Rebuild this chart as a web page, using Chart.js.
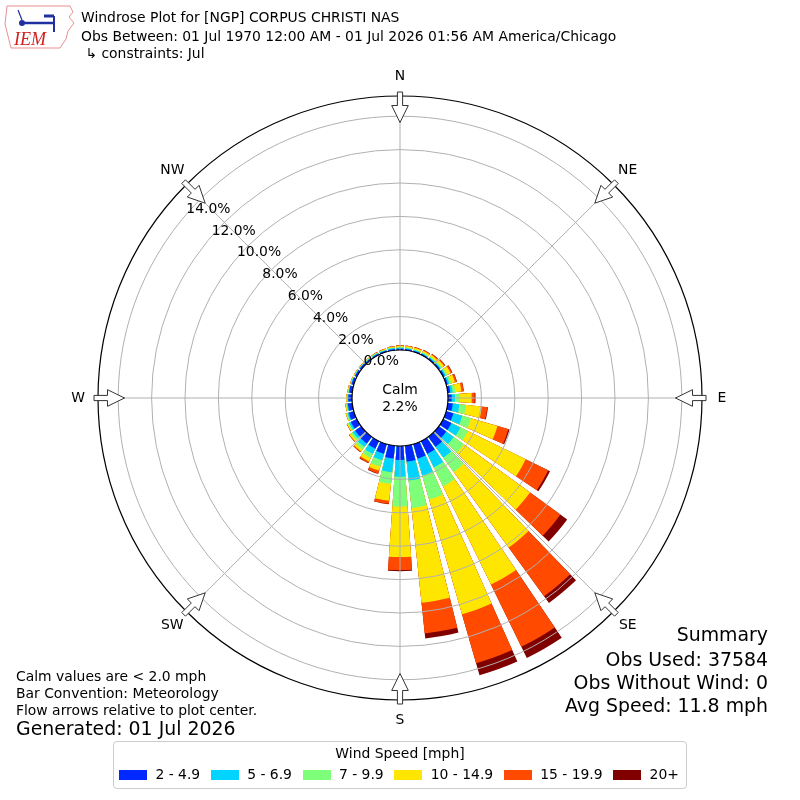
<!DOCTYPE html>
<html>
<head>
<meta charset="utf-8">
<script src="https://cdn.jsdelivr.net/npm/chart.js@4.4.1/dist/chart.umd.min.js"></script>
<style>
  body { margin: 0; background: #fff; font-family: "DejaVu Sans", sans-serif; color: #000; }
  #wrap { position: relative; width: 800px; height: 800px; overflow: hidden; }
  #rose { position: absolute; left: 0; top: 0; }
  .txt { position: absolute; white-space: pre; line-height: 1; font-size: 13.9px; }
  .big { font-size: 18.9px; }
  .right { text-align: right; right: 32px; }
  #legend { position: absolute; left: 113px; top: 741px; width: 574px; height: 48px;
            box-sizing: border-box; border: 1px solid #cccccc; border-radius: 4px; background: #fff; }
  #legend .title { position: absolute; left: 0; right: 0; top: 5px; text-align: center; font-size: 13.9px; line-height: 1; }
  #items { position: absolute; left: 5px; top: 26px; display: flex; align-items: center; gap: 10.6px; }
  .item { display: flex; align-items: center; gap: 8.4px; font-size: 13.9px; line-height: 1; }
  .sw { width: 28px; height: 10px; }
</style>
</head>
<body>
<div id="wrap">
  <canvas id="rose" width="800" height="800"></canvas>

  <svg style="position:absolute;left:2px;top:2px" width="76" height="50" viewBox="0 0 76 50">
    <path d="M5,4 L68,4 L71,10 L67,15 L72,21 L66,29 L64,37 L58,46 L9,46 L7,38 L3,22 Z" fill="none" stroke="#e89090" stroke-width="1"/>
    <line x1="20" y1="21" x2="52" y2="21" stroke="#2030a0" stroke-width="2.5"/>
    <circle cx="20" cy="21" r="3" fill="#2030a0"/>
    <line x1="52" y1="14" x2="52" y2="30" stroke="#2030a0" stroke-width="2"/>
    <line x1="42" y1="14" x2="52" y2="14" stroke="#2030a0" stroke-width="3"/>
    <line x1="16" y1="8" x2="20" y2="18" stroke="#2030a0" stroke-width="1.2"/>
    <text x="12" y="43" font-family="Liberation Serif" font-style="italic" font-size="18" fill="#d02020">IEM</text>
  </svg>

  <div class="txt" style="left:81px;top:11px">Windrose Plot for [NGP] CORPUS CHRISTI NAS</div>
  <div class="txt" style="left:81px;top:30px">Obs Between: 01 Jul 1970 12:00 AM - 01 Jul 2026 01:56 AM America/Chicago</div>
  <div class="txt" style="left:81px;top:47px"> ↳ constraints: Jul</div>

  <div class="txt" style="left:16px;top:670px">Calm values are &lt; 2.0 mph</div>
  <div class="txt" style="left:16px;top:687px">Bar Convention: Meteorology</div>
  <div class="txt" style="left:16px;top:704px">Flow arrows relative to plot center.</div>
  <div class="txt big" style="left:16px;top:719px">Generated: 01 Jul 2026</div>

  <div class="txt big right" style="top:625px">Summary</div>
  <div class="txt big right" style="top:650px">Obs Used: 37584</div>
  <div class="txt big right" style="top:673px">Obs Without Wind: 0</div>
  <div class="txt big right" style="top:696px">Avg Speed: 11.8 mph</div>

  <div id="legend">
    <div class="title">Wind Speed [mph]</div>
    <div id="items"></div>
  </div>
</div>

<script>
// wind directions (degrees, meteorological: where the wind blows from)
const DIRECTIONS = [0, 10, 20, 30, 40, 50, 60, 70, 80, 90, 100, 110, 120, 130, 140, 150, 160, 170,
                    180, 190, 200, 210, 220, 230, 240, 250, 260, 270, 280, 290, 300, 310, 320, 330, 340, 350];

// frequency (% of obs) for each speed class, per direction
const speed2to5 = [0.08, 0.07, 0.07, 0.07, 0.08, 0.08, 0.10, 0.10, 0.15, 0.22, 0.30, 0.45, 0.55, 0.55, 0.75, 0.85, 0.90, 0.95,
                   0.84, 0.77, 0.60, 0.50, 0.50, 0.45, 0.40, 0.32, 0.26, 0.22, 0.18, 0.14, 0.12, 0.10, 0.08, 0.08, 0.08, 0.08];
const speed5to7 = [0.05, 0.05, 0.05, 0.05, 0.06, 0.07, 0.08, 0.10, 0.15, 0.20, 0.40, 0.55, 0.60, 0.55, 0.80, 0.90, 1.05, 1.15,
                   1.00, 0.83, 0.40, 0.35, 0.25, 0.17, 0.12, 0.08, 0.06, 0.05, 0.04, 0.04, 0.03, 0.03, 0.04, 0.04, 0.04, 0.05];
const speed7to10 = [0.05, 0.05, 0.05, 0.06, 0.06, 0.08, 0.10, 0.12, 0.15, 0.30, 0.40, 0.55, 0.50, 0.75, 1.05, 1.25, 1.50, 1.65,
                    1.79, 0.70, 0.40, 0.27, 0.18, 0.13, 0.08, 0.06, 0.05, 0.04, 0.03, 0.02, 0.02, 0.02, 0.02, 0.03, 0.03, 0.04];
const speed10to15 = [0.08, 0.08, 0.09, 0.10, 0.12, 0.15, 0.22, 0.23, 0.37, 0.70, 0.95, 1.65, 3.85, 4.90, 5.60, 6.55, 7.15, 5.70,
                     3.02, 1.02, 0.25, 0.23, 0.15, 0.11, 0.06, 0.04, 0.04, 0.04, 0.03, 0.03, 0.03, 0.03, 0.03, 0.03, 0.04, 0.05];
const speed15to20 = [0.03, 0.03, 0.04, 0.05, 0.06, 0.07, 0.10, 0.11, 0.13, 0.18, 0.33, 0.68, 1.50, 2.25, 3.60, 4.15, 3.05, 1.85,
                     0.78, 0.18, 0.17, 0.10, 0.06, 0.04, 0.02, 0.01, 0.01, 0.01, 0.01, 0.01, 0.01, 0.01, 0.01, 0.01, 0.02, 0.02];
const speed20up = [0.01, 0.01, 0.01, 0.01, 0.02, 0.02, 0.02, 0.02, 0.02, 0.05, 0.04, 0.07, 0.12, 0.50, 0.50, 0.75, 0.75, 0.30,
                   0.07, 0.02, 0.03, 0.02, 0.01, 0.00, 0.00, 0.00, 0.00, 0.00, 0.00, 0.00, 0.00, 0.00, 0.00, 0.01, 0.00, 0.01];

const SPEED_LABELS = ['2 - 4.9', '5 - 6.9', '7 - 9.9', '10 - 14.9', '15 - 19.9', '20+'];
const SPEED_COLORS = ['#0028ff', '#00d4ff', '#7dff7a', '#ffe600', '#ff4a00', '#800000'];
const RING_TICKS = [0, 2, 4, 6, 8, 10, 12, 14];
const COMPASS = ['N', 'NE', 'E', 'SE', 'S', 'SW', 'W', 'NW'];
const CALM_PCT = 2.2;

const BINS = [speed2to5, speed5to7, speed7to10, speed10to15, speed15to20, speed20up];
const R_MIN = -2.874;   // leaves the calm hole in the middle
const R_MAX = 15.21;
const BAR_DEG = 8, GAP_DEG = 2;

Chart.defaults.font.family = '"DejaVu Sans", sans-serif';

// stack the classes: each dataset is drawn from the center out to its running total
const running = DIRECTIONS.map(() => 0);
const datasets = BINS.map((bin, k) => {
  const ends = bin.map((v, i) => (running[i] += v));
  return {
    label: SPEED_LABELS[k],
    data: ends.flatMap(v => [+v.toFixed(3), 0]),   // bar, then an empty gap slot
    backgroundColor: c => (c.index % 2 ? 'rgba(0,0,0,0)' : SPEED_COLORS[k]),
    borderWidth: 0,
    angle: c => (c.index % 2 ? GAP_DEG : BAR_DEG)
  };
});
const labels = DIRECTIONS.flatMap(d => [d + '°', '']);

const roseDecor = {
  id: 'roseDecor',
  afterDatasetsDraw(chart) {
    const s = chart.scales.r, ctx = chart.ctx;
    const x0 = s.xCenter, y0 = s.yCenter;
    const r0 = s.getDistanceFromCenterForValue(0), r1 = s.drawingArea;
    ctx.save();
    ctx.fillStyle = '#fff';
    ctx.beginPath();
    ctx.arc(x0, y0, r0, 0, Math.PI * 2);
    ctx.fill();
    ctx.strokeStyle = '#b0b0b0';
    ctx.lineWidth = 1;
    for (let i = 0; i < 8; i++) {
      const a = i * Math.PI / 4;
      ctx.beginPath();
      ctx.moveTo(x0 + r0 * Math.sin(a), y0 - r0 * Math.cos(a));
      ctx.lineTo(x0 + r1 * Math.sin(a), y0 - r1 * Math.cos(a));
      ctx.stroke();
    }
    ctx.restore();
  },
  afterDraw(chart) {
    const s = chart.scales.r, ctx = chart.ctx;
    const x0 = s.xCenter, y0 = s.yCenter, r1 = s.drawingArea;
    ctx.save();
    ctx.font = '13.9px "DejaVu Sans"';
    ctx.fillStyle = '#000';

    // ring labels along the upper-left diagonal
    const la = 49.3 * Math.PI / 180;
    ctx.textAlign = 'left';
    ctx.textBaseline = 'middle';
    RING_TICKS.forEach(t => {
      const r = s.getDistanceFromCenterForValue(t);
      ctx.fillText(t.toFixed(1) + '%', x0 - r * Math.sin(la), y0 - r * Math.cos(la) - 5);
    });

    // calm in the middle
    ctx.textAlign = 'center';
    ctx.fillText('Calm', x0, y0 - 8);
    ctx.fillText(CALM_PCT.toFixed(1) + '%', x0, y0 + 9);

    // compass letters and inward arrows
    COMPASS.forEach((name, i) => {
      const a = i * Math.PI / 4;
      const ux = Math.sin(a), uy = -Math.cos(a), px = Math.cos(a), py = Math.sin(a);
      ctx.fillStyle = '#000';
      ctx.fillText(name, x0 + (r1 + 20) * ux, y0 + (r1 + 20) * uy);
      const pts = [[r1 + 4, -2.6], [r1 - 9.5, -2.6], [r1 - 9.5, -8.3], [r1 - 26.5, 0],
                   [r1 - 9.5, 8.3], [r1 - 9.5, 2.6], [r1 + 4, 2.6]];
      ctx.beginPath();
      pts.forEach(([t, w], j) => {
        const x = x0 + t * ux + w * px, y = y0 + t * uy + w * py;
        if (j) ctx.lineTo(x, y); else ctx.moveTo(x, y);
      });
      ctx.closePath();
      ctx.fillStyle = '#fff';
      ctx.fill();
      ctx.strokeStyle = '#333';
      ctx.lineWidth = 1;
      ctx.stroke();
    });
    ctx.restore();
  }
};

new Chart(document.getElementById('rose'), {
  type: 'polarArea',
  data: { labels, datasets },
  options: {
    responsive: false,
    animation: false,
    layout: { padding: { left: 98, right: 98, top: 96, bottom: 100 } },
    plugins: { legend: { display: false }, tooltip: { enabled: false } },
    scales: {
      r: {
        min: R_MIN,
        max: R_MAX,
        beginAtZero: false,
        startAngle: -BAR_DEG / 2,
        afterBuildTicks: sc => { sc.ticks = RING_TICKS.concat([R_MAX]).map(v => ({ value: v })); },
        ticks: { display: false },
        pointLabels: { display: false },
        angleLines: { display: false },
        grid: {
          z: 1,
          circular: true,
          color: c => (c.tick && (c.tick.value === 0 || c.tick.value === R_MAX) ? '#000' : '#b0b0b0'),
          lineWidth: c => (c.tick && (c.tick.value === 0 || c.tick.value === R_MAX) ? 1.2 : 1)
        }
      }
    }
  },
  plugins: [roseDecor]
});

// legend
const items = document.getElementById('items');
SPEED_LABELS.forEach((lab, k) => {
  const it = document.createElement('div');
  it.className = 'item';
  it.innerHTML = '<div class="sw" style="background:' + SPEED_COLORS[k] + '"></div><span>' + lab + '</span>';
  items.appendChild(it);
});
</script>
</body>
</html>
